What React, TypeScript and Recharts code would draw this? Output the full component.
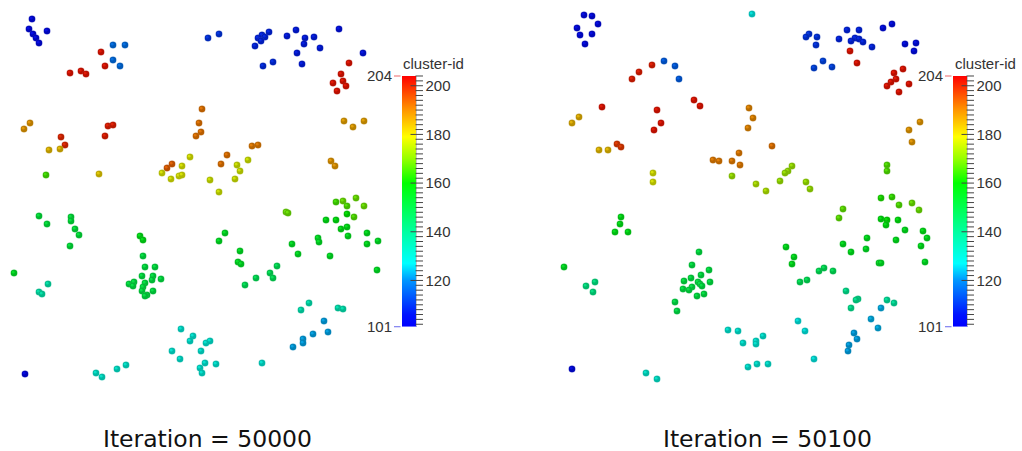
import React from 'react';
import { ScatterChart, Scatter, XAxis, YAxis, BarChart, Bar } from 'recharts';

// ---------- colour bar ----------
const CB_MIN = 101;
const CB_MAX = 204;
const majorTicks = [120, 140, 160, 180, 200];
const minorTicks: number[] = [];
for (let v = 102; v <= 204; v += 2) minorTicks.push(v);
const limitTicks = [101, 204];
const cmapValues = [101, 106, 120, 127, 140, 160, 170, 179, 190, 204];
const cmapColors = ['#0000ff', '#0014ff', '#0096ff', '#00ffff', '#00ffa0', '#00ff00', '#96ff00', '#ffff00', '#ff9600', '#ff0000'];
const panelTitles = ['Iteration = 50000', 'Iteration = 50100'];
const colorBarTitle = 'cluster-id';

// ---------- left panel points: [x, y, cluster-id] ----------
const leftBlue = [
  [32, 19, 103], [29, 29, 103], [33, 34, 103], [36, 38, 103], [39, 43, 103], [47, 31, 103],
  [113, 45, 117], [125, 45, 117], [113, 60, 117], [120, 66, 117],
  [208, 38, 110], [219, 34, 110],
  [258, 38, 108], [262, 35, 108], [265, 37, 108], [269, 32, 108], [261, 41, 108], [255, 46, 108],
  [287, 36, 107], [296, 30, 107], [305, 38, 107], [304, 44, 107], [314, 37, 107], [320, 48, 107],
  [297, 53, 107], [302, 64, 107], [273, 62, 109], [263, 66, 109],
  [339, 29, 105], [363, 53, 106],
  [25, 374, 102],
];
const leftRed = [
  [101, 52, 202], [105, 66, 202], [70, 73, 202], [81, 71, 202], [86, 74, 202],
  [61, 137, 200], [65, 145, 200],
  [108, 126, 201], [113, 125, 201], [105, 136, 201],
  [349, 63, 202], [341, 74, 202], [343, 81, 202], [346, 86, 202], [333, 83, 202], [337, 91, 202],
];
const leftOrange = [
  [30, 123, 188], [24, 129, 188], [49, 150, 184], [60, 149, 184], [99, 174, 182],
  [202, 109, 192], [199, 123, 192], [201, 132, 192], [196, 136, 192],
  [167, 168, 194], [172, 164, 194],
  [252, 146, 191], [258, 145, 191], [227, 155, 192], [221, 164, 192],
  [344, 121, 187], [353, 127, 187], [364, 121, 187], [331, 161, 188], [335, 166, 188],
];
const leftYellow = [
  [190, 157, 178], [182, 166, 178], [162, 173, 178], [171, 179, 178], [179, 176, 178], [182, 175, 178],
  [237, 165, 177], [240, 171, 177], [248, 160, 177], [235, 179, 177], [210, 180, 177], [219, 192, 177],
  [286, 212, 168], [288, 213, 168],
  [46, 175, 165],
  [336, 202, 165], [343, 201, 168], [347, 206, 166], [356, 198, 168], [364, 206, 168], [354, 217, 166],
];
const leftGreen = [
  [347, 214, 160], [336, 220, 158], [326, 220, 157], [341, 229, 157], [347, 227, 157], [348, 236, 156],
  [367, 233, 156], [367, 244, 156], [378, 241, 155], [377, 270, 155],
  [225, 233, 155], [219, 241, 155], [240, 251, 155], [238, 262, 155], [241, 264, 155],
  [292, 244, 155], [298, 254, 155], [318, 238, 155], [319, 242, 155], [330, 256, 155],
  [39, 216, 152], [47, 224, 152], [71, 217, 152], [71, 221, 152], [75, 229, 152], [79, 235, 152], [70, 246, 152],
  [14, 273, 155],
  [140, 236, 157], [143, 240, 157], [143, 256, 151], [145, 267, 151], [155, 267, 151], [142, 276, 151],
  [153, 276, 151], [161, 279, 151], [152, 280, 151], [129, 284, 151], [134, 282, 151], [133, 286, 151],
  [145, 283, 151], [143, 287, 151], [142, 291, 151], [153, 291, 151], [147, 295, 151], [145, 296, 151],
  [277, 266, 148], [270, 273, 148], [273, 278, 148], [256, 278, 148], [245, 285, 148],
];
const leftCyan = [
  [48, 284, 136], [39, 292, 136], [42, 294, 136],
  [309, 303, 135], [301, 310, 135], [338, 308, 135], [343, 309, 135],
  [324, 321, 122], [328, 332, 122], [313, 334, 122], [303, 339, 122], [303, 343, 122], [293, 347, 122],
  [181, 329, 130], [193, 336, 130], [190, 341, 130], [206, 343, 130], [210, 341, 130], [201, 351, 130],
  [172, 351, 130], [180, 359, 130], [205, 363, 130], [216, 364, 130], [200, 368, 130], [202, 373, 130],
  [262, 363, 130],
  [96, 373, 131], [102, 377, 131], [117, 369, 131], [126, 365, 131],
];

// ---------- right panel points: [x, y, cluster-id] ----------
const rightBlue = [
  [73, 15, 103], [81, 16, 103], [87, 24, 103], [66, 28, 103], [69, 35, 103], [81, 34, 103], [74, 44, 103],
  [153, 61, 115], [164, 66, 115], [168, 79, 115],
  [298, 34, 110], [295, 37, 110], [306, 37, 110], [305, 45, 110],
  [336, 30, 108], [348, 30, 108], [328, 39, 108], [340, 41, 108], [344, 38, 108], [348, 39, 108],
  [352, 42, 108], [361, 47, 108],
  [372, 28, 104], [381, 24, 104], [394, 44, 104], [405, 43, 104], [403, 51, 104],
  [312, 61, 112], [303, 68, 112], [321, 67, 112],
  [61, 369, 103],
];
const rightRed = [
  [141, 65, 201], [128, 72, 201], [121, 79, 201],
  [183, 100, 202], [189, 106, 202], [91, 107, 202],
  [146, 110, 202], [150, 123, 202], [143, 130, 202],
  [106, 144, 198], [110, 147, 198],
  [339, 51, 202], [346, 63, 202],
  [383, 73, 202], [392, 69, 202], [385, 79, 202], [380, 82, 202], [376, 86, 202], [398, 84, 202], [388, 92, 202],
];
const rightOrange = [
  [68, 117, 185], [61, 123, 185], [88, 150, 184], [97, 150, 184],
  [238, 108, 190], [242, 118, 190], [237, 128, 190],
  [228, 153, 191], [202, 160, 191], [208, 161, 191], [221, 161, 191], [229, 165, 191], [261, 146, 192],
  [409, 122, 188], [398, 130, 188], [401, 142, 188],
];
const rightYellow = [
  [221, 176, 172], [142, 173, 178], [142, 182, 178],
  [281, 166, 172], [277, 171, 172], [274, 173, 172], [269, 181, 172], [245, 184, 174], [255, 191, 174],
  [295, 182, 172], [299, 189, 172],
  [376, 165, 166], [376, 171, 166],
  [332, 209, 167], [328, 218, 167],
  [370, 198, 162], [381, 197, 164], [388, 205, 166], [401, 203, 168], [408, 210, 168],
];
const rightGreen = [
  [370, 219, 158], [376, 220, 160], [387, 220, 158], [375, 225, 158], [394, 230, 156], [412, 231, 157],
  [416, 238, 156], [410, 246, 156], [385, 240, 156], [356, 238, 156], [355, 249, 155], [368, 263, 155],
  [370, 263, 155], [414, 262, 155],
  [275, 247, 156], [283, 257, 156], [281, 264, 156], [332, 244, 156], [340, 252, 156],
  [308, 271, 148], [313, 268, 148], [322, 271, 148], [289, 282, 148], [296, 280, 148],
  [110, 217, 157], [109, 224, 157], [104, 232, 157], [117, 232, 157],
  [53, 267, 155],
  [188, 252, 151], [181, 265, 151], [198, 270, 151], [190, 275, 151], [180, 278, 151], [173, 281, 151],
  [199, 282, 151], [187, 282, 151], [189, 284, 151], [191, 286, 151], [181, 287, 151], [172, 289, 151],
  [178, 290, 151], [186, 296, 151], [193, 294, 151], [164, 302, 150], [166, 311, 150],
];
const rightCyan = [
  [241, 14, 128],
  [84, 282, 142], [75, 286, 142], [82, 292, 142],
  [335, 291, 140], [347, 299, 140], [345, 300, 140], [340, 308, 140], [376, 300, 138], [383, 303, 138],
  [370, 308, 123], [360, 319, 123], [367, 328, 123], [343, 333, 122], [346, 339, 122], [338, 345, 122], [337, 351, 122],
  [287, 321, 128], [294, 331, 128], [303, 359, 128],
  [217, 330, 130], [227, 331, 130], [232, 343, 130], [245, 341, 130], [245, 344, 130], [252, 336, 130],
  [237, 367, 130], [246, 364, 130], [257, 364, 130],
  [135, 373, 131], [146, 379, 131],
];

const leftGroups = [leftBlue, leftRed, leftOrange, leftYellow, leftGreen, leftCyan];
const rightGroups = [rightBlue, rightRed, rightOrange, rightYellow, rightGreen, rightCyan];

// ---------- helpers ----------
function hexToRgb(h: string) {
  return [parseInt(h.slice(1, 3), 16), parseInt(h.slice(3, 5), 16), parseInt(h.slice(5, 7), 16)];
}
function colorAt(v: number): number[] {
  if (v <= cmapValues[0]) return hexToRgb(cmapColors[0]);
  for (let i = 1; i < cmapValues.length; i++) {
    if (v <= cmapValues[i]) {
      const t = (v - cmapValues[i - 1]) / (cmapValues[i] - cmapValues[i - 1]);
      const a = hexToRgb(cmapColors[i - 1]);
      const b = hexToRgb(cmapColors[i]);
      return a.map((c, k) => c + (b[k] - c) * t);
    }
  }
  return hexToRgb(cmapColors[cmapColors.length - 1]);
}
function rgb(c: number[], f: number, add = 0) {
  const m = c.map((x) => Math.max(0, Math.min(255, Math.round(x * f + add))));
  return `rgb(${m[0]},${m[1]},${m[2]})`;
}
const toPts = (arr: number[][]) => arr.map(([x, y, id]) => ({ x, y, id }));

const Ball = (props: any) => {
  const { cx, cy, payload } = props;
  if (cx == null || cy == null) return null;
  const c = colorAt(payload.id);
  return (
    <g>
      <circle cx={cx} cy={cy} r={3.7} fill={rgb(c, 0.5, 70)} opacity={0.35} />
      <circle cx={cx} cy={cy} r={3.2} fill={rgb(c, 0.72)} />
      <circle cx={cx - 0.8} cy={cy - 0.8} r={1.4} fill={rgb(c, 0.9, 10)} opacity={0.75} />
    </g>
  );
};

const PW = 511;
const PH = 451;

function Panel({ groups, left }: { groups: number[][][]; left: number }) {
  return (
    <div style={{ position: 'absolute', left, top: 0 }}>
      <ScatterChart width={PW} height={PH} margin={{ top: 0, right: 0, bottom: 0, left: 0 }}>
        <XAxis type="number" dataKey="x" domain={[0, PW]} hide />
        <YAxis type="number" dataKey="y" domain={[0, PH]} reversed hide />
        {groups.map((g, i) => (
          <Scatter key={i} data={toPts(g)} shape={<Ball />} isAnimationActive={false} />
        ))}
      </ScatterChart>
    </div>
  );
}

const CbTick = (props: any) => {
  const { x, y, payload } = props;
  const v = payload.value;
  const major = majorTicks.includes(v);
  return (
    <g>
      <line x1={major ? x - 6 : x - 1} x2={x + 6.5} y1={y} y2={y} stroke="#444" strokeWidth={1} />
      {major && (
        <text x={x + 9} y={y} dy="0.36em" textAnchor="start" fill="#333" fontSize={15} fontFamily="'Liberation Sans', Arial, sans-serif">
          {v}
        </text>
      )}
    </g>
  );
};

const LimTick = (props: any) => {
  const { x, y, payload } = props;
  const v = payload.value;
  return (
    <g>
      <line x1={x - 8} x2={x - 1.5} y1={y} y2={y} stroke={v === CB_MAX ? '#f08080' : '#8080f0'} strokeWidth={1.2} />
      <text x={x - 10} y={y} dy="0.36em" textAnchor="end" fill="#333" fontSize={15} fontFamily="'Liberation Sans', Arial, sans-serif">
        {v}
      </text>
    </g>
  );
};

const cbData = [{ name: 'cb', range: [CB_MIN, CB_MAX] }];

function ColorBar({ plotLeft, id }: { plotLeft: number; id: string }) {
  const lw = 40;
  const rw = 60;
  const bw = 14.5;
  const top = 76;
  const h = 250.7;
  return (
    <div style={{ position: 'absolute', left: plotLeft - lw, top: top - 10 }}>
      <BarChart width={lw + bw + rw} height={h + 20} data={cbData} margin={{ top: 10, bottom: 10, left: 0, right: 0 }} barCategoryGap={0} barGap={0}>
        <defs>
          <linearGradient id={id} x1="0" y1="1" x2="0" y2="0">
            {cmapValues.map((v, i) => (
              <stop key={i} offset={(v - CB_MIN) / (CB_MAX - CB_MIN)} stopColor={cmapColors[i]} />
            ))}
          </linearGradient>
        </defs>
        <XAxis dataKey="name" hide />
        <YAxis yAxisId="r" orientation="right" type="number" domain={[CB_MIN, CB_MAX]} ticks={minorTicks} interval={0}
          width={rw} tick={<CbTick />} tickLine={false} tickSize={0} tickMargin={0} axisLine={{ stroke: '#c8c8c8' }} allowDataOverflow />
        <YAxis yAxisId="l" orientation="left" type="number" domain={[CB_MIN, CB_MAX]} ticks={limitTicks} interval={0}
          width={lw} tick={<LimTick />} tickLine={false} tickSize={0} tickMargin={0} axisLine={false} allowDataOverflow />
        <Bar yAxisId="r" dataKey="range" fill={`url(#${id})`} isAnimationActive={false} />
      </BarChart>
    </div>
  );
}

export default function App() {
  return (
    <div style={{ position: 'absolute', left: 0, top: 0, width: 1022, height: 451, background: '#fff', overflow: 'hidden' }}>
      <Panel groups={leftGroups} left={0} />
      <Panel groups={rightGroups} left={PW} />
      <ColorBar plotLeft={401.7} id="cbL" />
      <ColorBar plotLeft={953.3} id="cbR" />
      <svg width={1022} height={451} style={{ position: 'absolute', left: 0, top: 0, pointerEvents: 'none' }}>
        <text x={403} y={68.5} fontSize={15} fill="#333" fontFamily="'Liberation Sans', Arial, sans-serif">{colorBarTitle}</text>
        <text x={955} y={68.5} fontSize={15} fill="#333" fontFamily="'Liberation Sans', Arial, sans-serif">{colorBarTitle}</text>
        <text x={207.5} y={446.5} fontSize={23.5} fill="#111" textAnchor="middle" fontFamily="'DejaVu Sans', sans-serif">{panelTitles[0]}</text>
        <text x={767.5} y={446.5} fontSize={23.5} fill="#111" textAnchor="middle" fontFamily="'DejaVu Sans', sans-serif">{panelTitles[1]}</text>
      </svg>
    </div>
  );
}
